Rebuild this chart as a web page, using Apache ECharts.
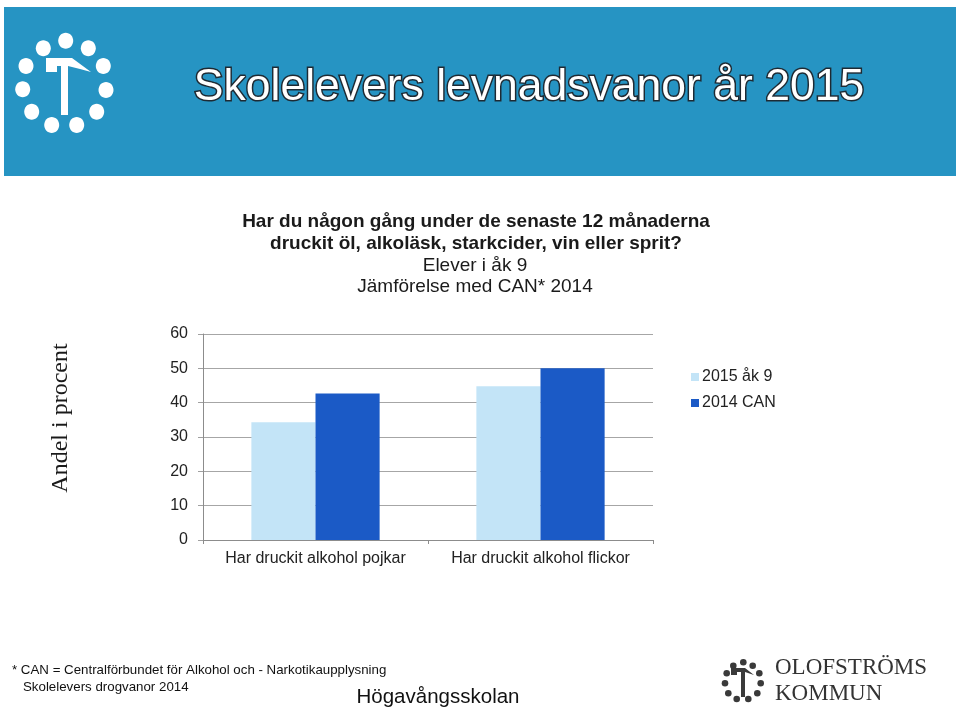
<!DOCTYPE html>
<html>
<head>
<meta charset="utf-8">
<script src="https://cdn.jsdelivr.net/npm/echarts@6/dist/echarts.min.js"></script>
<style>html,body{margin:0;padding:0;background:#fff;}#c{width:960px;height:713px;}</style>
</head>
<body>
<div id="c"></div>
<script>
var categories = ['Har druckit alkohol pojkar', 'Har druckit alkohol flickor'];
var seriesNames = ['2015 åk 9', '2014 CAN'];
var values2015 = [34.3, 44.8];
var valuesCAN = [42.7, 50];
var yTicks = [0, 10, 20, 30, 40, 50, 60];

var chart = echarts.init(document.getElementById('c'), null, {renderer: 'canvas'});

var headerDots = [[65.7,40.7],[43.3,48.3],[88.3,48.3],[26,66],[103.3,66],[22.7,89.3],[106,90],[31.7,111.7],[96.7,111.7],[51.7,125],[76.7,125]];
var footDots = [[743.3,662.3],[733.3,665.7],[752.7,665.7],[726.7,673.3],[759.3,673.3],[725,683.3],[760.7,683.3],[728.3,693.3],[757.3,693.3],[736.7,699],[748.3,699]];

var sans = '"Liberation Sans", Arial, sans-serif';
var serif = '"Liberation Serif", "Times New Roman", serif';

var graphics = [
  {type:'rect', shape:{x:4,y:7,width:952,height:169}, style:{fill:'#2694c3'}, silent:true, z:-1},
  {type:'text', x:529, y:88, style:{text:'Skolelevers levnadsvanor år 2015', fill:'#ffffff', stroke:'#1e2a33', lineWidth:3, strokeFirst:true, font:'44.5px ' + sans, align:'center', verticalAlign:'middle'}},
  {type:'polygon', shape:{points:[[46,58],[72,58],[91,72],[80,69],[68,66],[68,115],[61,115],[61,66],[57,66],[57,72],[46,72]]}, style:{fill:'#ffffff'}},
  {type:'polygon', shape:{points:[[731,668],[745,668],[754,675],[745,672],[745,697],[741,697],[741,672],[737,672],[737,675],[731,675]]}, style:{fill:'#3a3a3a'}},
  {type:'text', x:476, y:222, style:{text:'Har du någon gång under de senaste 12 månaderna', fill:'#1a1a1a', font:'bold 19px ' + sans, align:'center', verticalAlign:'middle'}},
  {type:'text', x:476, y:244, style:{text:'druckit öl, alkoläsk, starkcider, vin eller sprit?', fill:'#1a1a1a', font:'bold 19px ' + sans, align:'center', verticalAlign:'middle'}},
  {type:'text', x:475, y:266, style:{text:'Elever i åk 9', fill:'#1a1a1a', font:'19px ' + sans, align:'center', verticalAlign:'middle'}},
  {type:'text', x:475, y:287, style:{text:'Jämförelse med CAN* 2014', fill:'#1a1a1a', font:'19px ' + sans, align:'center', verticalAlign:'middle'}},
  {type:'text', x:61, y:418, rotation:Math.PI/2, style:{text:'Andel i procent', fill:'#1a1a1a', font:'24px ' + serif, align:'center', verticalAlign:'middle'}},
  {type:'text', x:12, y:670, style:{text:'* CAN = Centralförbundet för Alkohol och - Narkotikaupplysning', fill:'#111', font:'13.3px ' + sans, verticalAlign:'middle'}},
  {type:'text', x:23, y:687, style:{text:'Skolelevers drogvanor 2014', fill:'#111', font:'13.3px ' + sans, verticalAlign:'middle'}},
  {type:'text', x:438, y:697, style:{text:'Högavångsskolan', fill:'#111', font:'20.5px ' + sans, align:'center', verticalAlign:'middle'}},
  {type:'text', x:775, y:668, style:{text:'OLOFSTRÖMS', fill:'#333', font:'23px ' + serif, verticalAlign:'middle'}},
  {type:'text', x:775, y:694, style:{text:'KOMMUN', fill:'#333', font:'23px ' + serif, verticalAlign:'middle'}}
];
headerDots.forEach(function(p){
  graphics.push({type:'ellipse', shape:{cx:p[0], cy:p[1], rx:7.5, ry:8}, style:{fill:'#ffffff'}});
});
footDots.forEach(function(p){
  graphics.push({type:'circle', shape:{cx:p[0], cy:p[1], r:3.3}, style:{fill:'#3a3a3a'}});
});

var option = {
  backgroundColor: '#ffffff',
  animation: false,
  legend: {
    orient: 'vertical', left: 686, top: 364, itemWidth: 8, itemHeight: 8, itemGap: 10,
    icon: 'rect', data: seriesNames,
    textStyle: {fontFamily: sans, fontSize: 16, color: '#222', padding: [0,0,0,-2]}
  },
  grid: {left: 203, right: 307, top: 334, bottom: 173, containLabel: false},
  xAxis: {
    type: 'category', data: categories,
    axisLine: {show: true, lineStyle: {color: '#8c8c8c', width: 1}},
    axisTick: {show: true, length: 4, lineStyle: {color: '#8c8c8c'}},
    axisLabel: {fontFamily: sans, fontSize: 16, color: '#222', margin: 11, interval: 0}
  },
  yAxis: {
    type: 'value', min: 0, max: 60, interval: 10,
    axisLine: {show: true, lineStyle: {color: '#8c8c8c', width: 1}},
    axisTick: {show: true, length: 5, lineStyle: {color: '#a0a0a0'}},
    splitLine: {show: true, lineStyle: {color: '#a6a6a6', width: 1}},
    axisLabel: {fontFamily: sans, fontSize: 16, color: '#222', margin: 15,
      formatter: function(v){ return yTicks.indexOf(v) >= 0 ? String(v) : ''; }}
  },
  series: [
    {name: seriesNames[0], type: 'bar', data: values2015, barGap: '0%', barCategoryGap: '43%', itemStyle: {color: '#c3e4f7'}},
    {name: seriesNames[1], type: 'bar', data: valuesCAN, barGap: '0%', barCategoryGap: '43%', itemStyle: {color: '#1b5ac6'}}
  ],
  graphic: graphics
};
chart.setOption(option);
</script>
</body>
</html>
